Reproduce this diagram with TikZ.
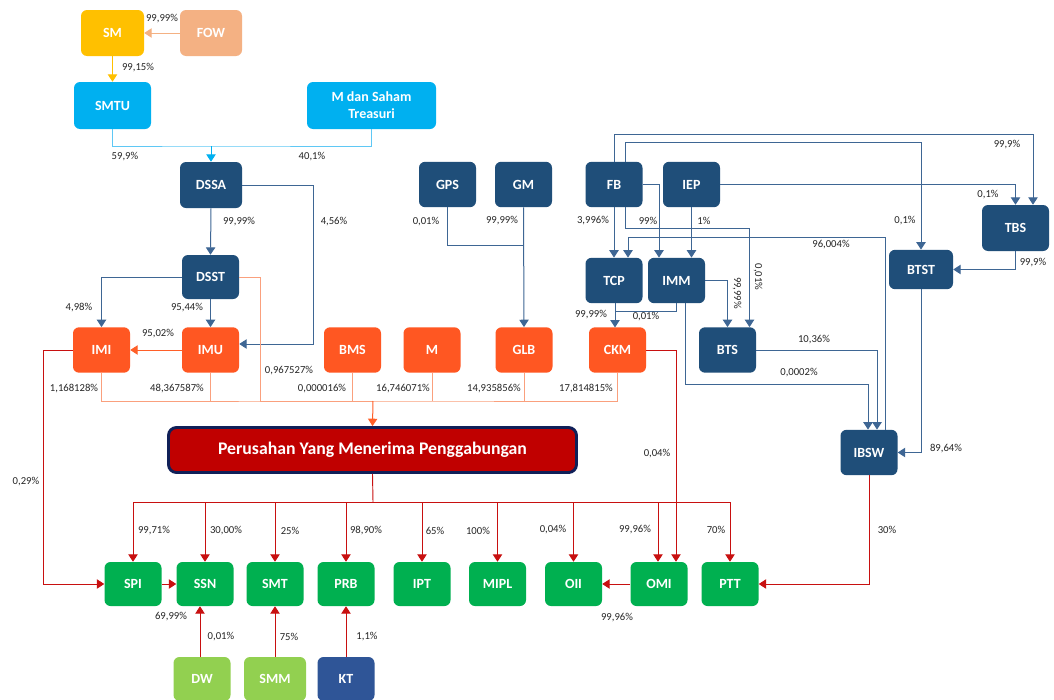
\documentclass[tikz,border=0pt]{standalone}
\usepackage{fontspec}
\setmainfont{Carlito}
\usepackage{tikz}
\usetikzlibrary{arrows.meta,positioning,calc}

\definecolor{navyfill}{RGB}{31,78,121}
\definecolor{navyln}{RGB}{62,102,148}
\definecolor{orfill}{RGB}{255,87,34}
\definecolor{orln}{RGB}{250,160,125}
\definecolor{ortip}{RGB}{255,95,40}
\definecolor{redfill}{RGB}{192,0,0}
\definecolor{redln}{RGB}{200,16,16}
\definecolor{grfill}{RGB}{0,176,80}
\definecolor{lgfill}{RGB}{146,208,80}
\definecolor{ktfill}{RGB}{47,85,151}
\definecolor{cyfill}{RGB}{0,176,240}
\definecolor{cyln}{RGB}{95,200,245}
\definecolor{smfill}{RGB}{255,192,0}
\definecolor{fowfill}{RGB}{244,177,131}
\definecolor{lbl}{RGB}{38,38,38}
\definecolor{pmgedge}{RGB}{16,32,88}

\tikzset{
  rect/.style={
    rectangle,
    rounded corners=4.5pt,
    inner sep=0pt,
    text=white,
    align=center,
    font=\bfseries\fontsize{10.5}{12.75}\selectfont,
    minimum width=42.75pt,
    minimum height=34pt,
  },
  bluebox/.style={rect, fill=navyfill},
  orbox/.style={rect, fill=orfill},
  grbox/.style={rect, fill=grfill, minimum height=33pt},
  pct/.style={font=\fontsize{8}{9}\selectfont, text=lbl, inner sep=0pt},
  tip/.style={-{Triangle[length=5.5pt,width=7pt]}},
  bline/.style={color=navyln, line width=0.75pt},
  oline/.style={color=orln, line width=0.75pt},
  rline/.style={color=redln, line width=0.7pt},
}

\begin{document}
\begin{tikzpicture}[x=0.75pt, y=-0.75pt]
        \fill[white] (0,0) rectangle (1054,700);
        \useasboundingbox (0,0) rectangle (1054,700);

        % top of the chart
        \node (sm) [rect, fill=smfill, minimum width=47.25pt, minimum height=34.5pt] at (112.5,33) {SM};
        \node (fow) [rect, fill=fowfill, minimum width=46.5pt, minimum height=34.5pt] at (211,33) {FOW};
        \node (smtu) [rect, fill=cyfill, minimum width=57.75pt, minimum height=35.25pt] at (112.5,105.5) {SMTU};
        \node (msaham) [rect, fill=cyfill, minimum width=96.75pt, minimum height=35.25pt] at (371.5,105.5) {M dan Saham\\Treasuri};

        \node (dssa) [bluebox, minimum width=46.5pt, minimum height=34.5pt] at (211,185) {DSSA};
        \node (dsst) [bluebox, minimum height=33pt] at (210.5,277) {DSST};

        \node (imi) [orbox] at (101.5,350) {IMI};
        \node (imu) [orbox] at (210.5,350) {IMU};
        \node (bms) [orbox] at (352.5,350) {BMS};
        \node (m) [orbox] at (432,350) {M};
        \node (glb) [orbox] at (524,350) {GLB};
        \node (ckm) [orbox] at (617.5,350) {CKM};

        \node (gps) [bluebox] at (447.5,184.5) {GPS};
        \node (gm) [bluebox] at (523.5,184.5) {GM};
        \node (fb) [bluebox] at (614,184.5) {FB};
        \node (iep) [bluebox] at (691.5,184.5) {IEP};
        \node (tcp) [bluebox] at (614,280.5) {TCP};
        \node (imm) [bluebox] at (676.5,280.5) {IMM};
        \node (bts) [bluebox] at (727.5,350) {BTS};
        \node (btst) [bluebox, minimum width=48pt, minimum height=29.5pt] at (921,269.5) {BTST};
        \node (tbs) [bluebox, minimum width=50.25pt, minimum height=34.5pt] at (1015.5,228) {TBS};
        \node (ibsw) [bluebox] at (869,452.5) {IBSW};

        % merged company
        \node (pmg) [rect, fill=redfill, draw=pmgedge, line width=2.2pt, rounded corners=6pt,
        minimum width=306pt, minimum height=33.75pt,
        font=\bfseries\fontsize{13.3}{16}\selectfont] at (372.5,450) {Perusahan Yang Menerima Penggabungan};

        % bottom row
        \node (spi) [grbox] at (133,584) {SPI};
        \node (ssn) [grbox] at (205,584) {SSN};
        \node (smt) [grbox] at (275,584) {SMT};
        \node (prb) [grbox] at (346,584) {PRB};
        \node (ipt) [grbox] at (422,584) {IPT};
        \node (mipl) [grbox] at (497.5,584) {MIPL};
        \node (oii) [grbox] at (573.5,584) {OII};
        \node (omi) [grbox] at (659,584) {OMI};
        \node (ptt) [grbox] at (730,584) {PTT};

        \node (dw) [rect, fill=lgfill, minimum height=33pt] at (202,679) {DW};
        \node (smm) [rect, fill=lgfill, minimum width=46.5pt, minimum height=33pt] at (275,679) {SMM};
        \node (kt) [rect, fill=ktfill, minimum height=33pt] at (346,679) {KT};

        % SM, SMTU, DSSA
        \draw [tip, color=fowfill, line width=0.75pt] (fow.west) -- (sm.east);
        \draw [tip, color=smfill, line width=0.75pt] (sm.south) -- (smtu.north);
        \coordinate (cyj) at (211,146);
        \draw [color=cyln, line width=0.75pt] (smtu.south) |- (cyj) -| (msaham.south);
        \draw [tip, color=cyfill, line width=0.75pt] (cyj) -- (dssa.north);

        \draw [tip, bline] (dssa.south) -- (dsst.north);
        \draw [tip, bline] (dssa.east) -- ++(71,0) |- ($(imu.east)+(0,-6)$);
        \draw [tip, bline] (dsst.west) -| (imi.north);
        \draw [tip, bline] (dsst.south) -- (imu.north);
        \draw [tip, color=ortip, line width=0.75pt] (imu.west) -- (imi.east);

        % into the merged company
        \coordinate (obus) at (373,401);
        \draw [oline] (imi.south) |- (obus) -| (ckm.south);
        \draw [oline] (dsst.east) -- ++(21,0) |- (obus);
        \foreach \n in {imu,bms,m,glb}
          \draw [oline] (\n.south) -- (\n.south |- obus);
        \draw [tip, color=ortip, line width=0.75pt] (obus) -- (pmg.north);

        \draw [bline] (gps.south) |- ($(gm.south)+(0,38)$);
        \draw [tip, bline] (gm.south) -- (glb.north);

        % FB, IEP and the right side
        \draw [tip, bline] (fb.south) -- (tcp.north);
        \draw [tip, bline] (fb.east) -| ($(imm.north)+(-17.5,0)$);
        \draw [tip, bline] (iep.south) -- (iep.south |- imm.north);
        \draw [tip, bline] (fb.north) -- ++(0,-27.5) -| ($(tbs.north)+(17.5,0)$);
        \draw [tip, bline] ($(fb.north)+(11,0)$) -- ++(0,-19) -| (btst.north);
        \draw [tip, bline] ($(fb.south)+(11,0)$) -- ++(0,21) -| ($(bts.north)+(22,0)$);
        \draw [tip, bline] (iep.east) -| (tbs.north);
        \draw [tip, bline] (imm.east) -| (bts.north);
        \draw [bline] (imm.south) |- ($(tcp.south)+(1,8)$);
        \draw [tip, bline] ($(tcp.south)+(1,0)$) -- ($(tcp.south)+(1,24)$);
        \draw [tip, bline] ($(imm.south)+(8.5,0)$) -- ++(0,81) -| ($(ibsw.north)+(-1,0)$);
        \draw [tip, bline] (bts.east) -| ($(ibsw.north)+(8,0)$);
        \draw [tip, bline] ($(ibsw.north)+(16,0)$) -- ++(0,-192) -| ($(tcp.north)+(14,0)$);
        \draw [tip, bline] (tbs.south) |- (btst.east);
        \draw [tip, bline] (btst.south) |- (ibsw.east);

        % out of the merged company
        \coordinate (rbus) at (373,502);
        \coordinate (omitop) at ($(omi.north)+(-1,0)$);
        \coordinate (dwtop) at ($(dw.north)+(-2,0)$);
        \draw [rline] (pmg.south) -- (rbus);
        \draw [rline] (spi.north |- rbus) -- (ptt.north |- rbus);
        \foreach \n in {spi,ssn,smt,prb,ipt,mipl,oii,ptt,omitop}
          \draw [tip, rline] (\n |- rbus) -- (\n.north);
        \draw [tip, rline] (ckm.east) -| ($(omi.north)+(17,0)$);
        \draw [tip, rline] (imi.west) -- ++(-29,0) |- (spi.west);
        \draw [tip, rline] (spi.east) -- (ssn.west);
        \draw [tip, rline] (omi.west) -- (oii.east);
        \draw [tip, rline] (ibsw.south) |- (ptt.east);
        \draw [tip, rline] (dwtop) -- (dwtop |- ssn.south);
        \draw [tip, rline] (smm.north) -- (smt.south);
        \draw [tip, rline] (kt.north) -- (prb.south);

        % percentages
        \node (l1) [pct] at (162,19) {99,99\%};
        \node (l2) [pct] at (138,68) {99,15\%};
        \node (l3) [pct] at (125,157) {59,9\%};
        \node (l4) [pct] at (312,157) {40,1\%};
        \node (l5) [pct] at (239,222) {99,99\%};
        \node (l6) [pct] at (334,222) {4,56\%};
        \node (l7) [pct] at (79,308) {4,98\%};
        \node (l8) [pct] at (187,308) {95,44\%};
        \node (l9) [pct] at (158,334) {95,02\%};
        \node (l10) [pct] at (289,371) {0,967527\%};
        \node (l11) [pct] at (74,389) {1,168128\%};
        \node (l12) [pct] at (177,389) {48,367587\%};
        \node (l13) [pct] at (322,389) {0,000016\%};
        \node (l14) [pct] at (403,389) {16,746071\%};
        \node (l15) [pct] at (494,389) {14,935856\%};
        \node (l16) [pct] at (586,389) {17,814815\%};
        \node (l17) [pct] at (426,222) {0,01\%};
        \node (l18) [pct] at (502,221) {99,99\%};
        \node (l19) [pct] at (593,221) {3,996\%};
        \node (l20) [pct] at (648,221) {99\%};
        \node (l21) [pct] at (704,221) {1\%};
        \node (l22) [pct] at (905,221) {0,1\%};
        \node (l23) [pct] at (1007,145) {99,9\%};
        \node (l24) [pct] at (988,195) {0,1\%};
        \node (l25) [pct] at (831,245) {96,004\%};
        \node (l26) [pct] at (1033,263) {99,9\%};
        \node (l27) [pct, rotate=-90] at (758,277) {0,01\%};
        \node (l28) [pct, rotate=-90] at (737,293) {99,99\%};
        \node (l29) [pct] at (591,315) {99,99\%};
        \node (l30) [pct] at (646,317) {0,01\%};
        \node (l31) [pct] at (814,340) {10,36\%};
        \node (l32) [pct] at (799,373) {0,0002\%};
        \node (l33) [pct] at (946,449) {89,64\%};
        \node (l34) [pct] at (657,454) {0,04\%};
        \node (l35) [pct] at (26,482) {0,29\%};
        \node (l36) [pct] at (154,531) {99,71\%};
        \node (l37) [pct] at (226,531) {30,00\%};
        \node (l38) [pct] at (290,531) {25\%};
        \node (l39) [pct] at (366,531) {98,90\%};
        \node (l40) [pct] at (435,531) {65\%};
        \node (l41) [pct] at (478,531) {100\%};
        \node (l42) [pct] at (553,530) {0,04\%};
        \node (l43) [pct] at (635,530) {99,96\%};
        \node (l44) [pct] at (716,530) {70\%};
        \node (l45) [pct] at (887,530) {30\%};
        \node (l46) [pct] at (171,617) {69,99\%};
        \node (l47) [pct] at (617,618) {99,96\%};
        \node (l48) [pct] at (221,637) {0,01\%};
        \node (l49) [pct] at (289,637) {75\%};
        \node (l50) [pct] at (367,637) {1,1\%};
      \end{tikzpicture}
\end{document}
